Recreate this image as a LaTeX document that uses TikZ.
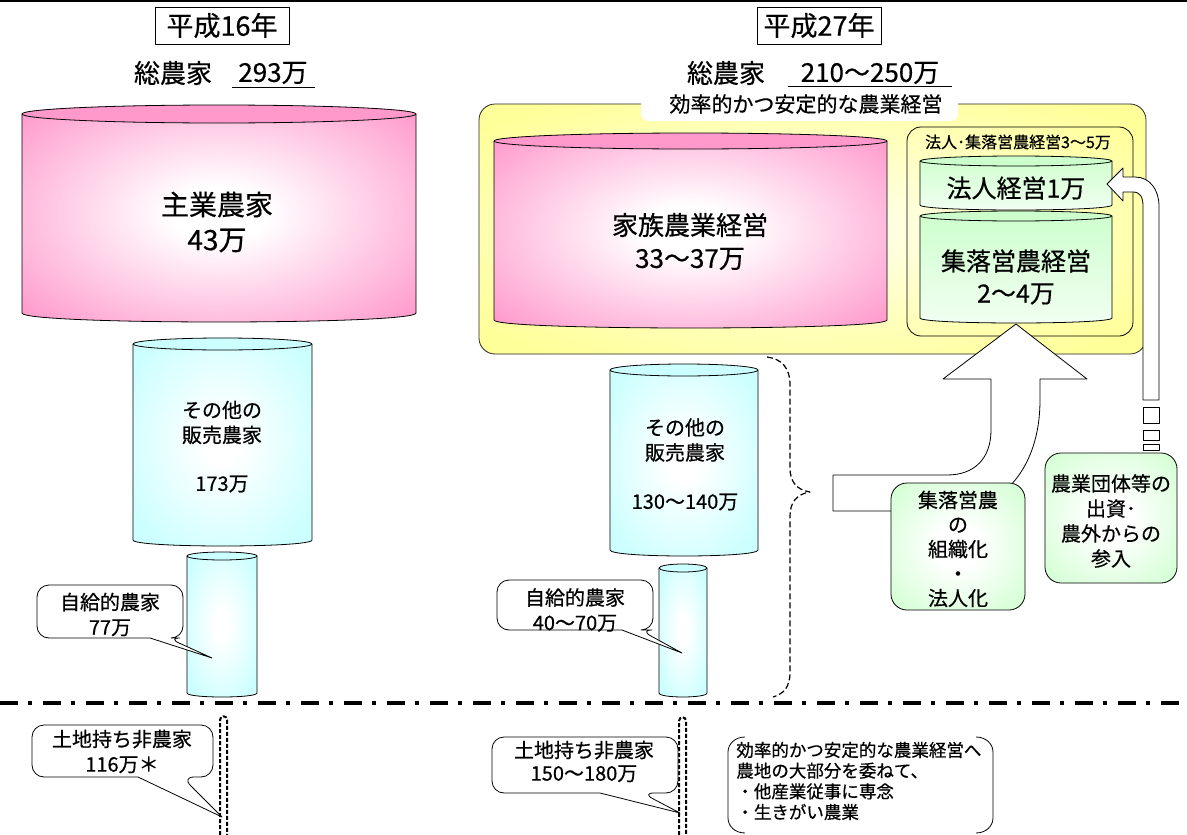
\documentclass[tikz,border=0pt]{standalone}
\usepackage{fontspec}
\setmainfont{Noto Sans CJK JP}[FakeBold=0.5]
\definecolor{pinkc}{HTML}{FF99CC}
\definecolor{cyanc}{HTML}{CCFFFF}
\definecolor{greenc}{HTML}{CCFFCC}
\definecolor{greenl}{HTML}{F2FFF2}
\definecolor{yellowc}{HTML}{FFFF99}
\definecolor{yellowin}{HTML}{FFFFE0}
\pgfdeclareradialshading{pinkglow}{\pgfpoint{0bp}{0bp}}{color(0bp)=(white); color(6bp)=(white); color(34bp)=(pinkc); color(50bp)=(pinkc)}
\pgfdeclareradialshading{cyanglow}{\pgfpoint{0bp}{0bp}}{color(0bp)=(white); color(5bp)=(white); color(30bp)=(cyanc); color(50bp)=(cyanc)}
\pgfdeclareradialshading{greenglow}{\pgfpoint{0bp}{0bp}}{color(0bp)=(white); color(8bp)=(white); color(38bp)=(greenc); color(50bp)=(greenc)}
\pgfdeclareradialshading{yellowglow}{\pgfpoint{0bp}{0bp}}{color(0bp)=(yellowin); color(6bp)=(yellowin); color(32bp)=(yellowc); color(50bp)=(yellowc)}
\newcommand\Cyl[7]{%
  \path[#6] (#1,#3) -- (#1,#4) .. controls (#1,{#4+1.333*#5}) and (#2,{#4+1.333*#5}) .. (#2,#4) -- (#2,#3) .. controls (#2,{#3-1.333*#5}) and (#1,{#3-1.333*#5}) .. cycle;
  \draw (#1,#3) -- (#1,#4) .. controls (#1,{#4+1.333*#5}) and (#2,{#4+1.333*#5}) .. (#2,#4) -- (#2,#3);
  \draw[fill=#7] ({(#1+#2)/2},#3) ellipse [x radius={(#2-#1)/2}, y radius=#5];
}
\tikzset{
  fA/.style={font=\fontsize{27}{32}\selectfont},
  fB/.style={font=\fontsize{26}{33}\selectfont},
  fC/.style={font=\fontsize{20}{25}\selectfont},
  fD/.style={font=\fontsize{17.5}{20.7}\selectfont},
  lbl/.style={inner sep=0pt, align=center},
  call/.style={draw, fill=white, line width=0.8pt},
  vdots/.style={line width=2pt, dash pattern=on 4pt off 2pt},
}
\begin{document}
\begin{tikzpicture}[x=1pt,y=-1pt,line width=0.8pt,line join=round]
\useasboundingbox (0,0) rectangle (1187,835);
\fill[white] (0,0) rectangle (1187,835);
\draw[line width=2pt] (0,1) -- (1187,1);

% titles
\node[draw, fA, minimum width=134pt, minimum height=37pt, inner sep=0pt] (t16) at (222,25.5) {平成16年};
\node[draw, fA, minimum width=124pt, minimum height=37pt, inner sep=0pt] (t27) at (819,25.5) {平成27年};
\node[fB, lbl] (s16a) at (173,73) {総農家};
\node[fB, lbl] (s16b) at (273,73) {293万};
\draw (232,87) -- (315,87);
\node[fB, lbl] (s27a) at (726,73) {総農家};
\node[fB, lbl] (s27b) at (870,73) {210～250万};
\draw (788,86) -- (952,86);

% yellow frame
\draw[rounded corners=16, shading=yellowglow, draw=black!85] (479,104) rectangle (1146,354);
\fill[white, rounded corners=8] (641,88) rectangle (958,121);
\node[lbl, font=\fontsize{21}{25}\selectfont] (eff) at (806,104) {効率的かつ安定的な農業経営};

% pink cylinders
\Cyl{22}{416}{114}{313}{9}{shading=pinkglow}{pinkc}
\node[lbl, font=\fontsize{28}{35}\selectfont] (main) at (217,222) {主業農家\\43万};
\Cyl{494}{887}{141}{320}{8}{shading=pinkglow}{pinkc}
\node[lbl, fB] (fam) at (690,241.5) {家族農業経営\\33～37万};

% corporate frame
\draw[rounded corners=14] (907,127) rectangle (1133,336);
\node[lbl, font=\fontsize{16}{19}\selectfont] (corp) at (1018,142) {法人･集落営農経営3～5万};
\Cyl{920}{1112}{161}{205}{5}{top color=greenc,bottom color=greenl}{greenc}
\node[lbl, font=\fontsize{25}{32}\selectfont] (hojin) at (1016,188) {法人経営1万};
\Cyl{920}{1112}{216}{318}{5}{top color=greenc,bottom color=greenl}{greenc}
\node[lbl, font=\fontsize{25}{32}\selectfont] (shur) at (1016,277) {集落営農経営\\2～4万};

% cyan cylinders
\Cyl{133}{312}{344}{540}{6}{shading=cyanglow}{cyanc}
\node[lbl, fC] (o1) at (222,422.5) {その他の\\販売農家};
\node[lbl, fC] (o1n) at (222,484) {173万};
\Cyl{187}{257}{556}{693}{4}{shading=cyanglow}{cyanc}
\Cyl{610}{758}{370}{550}{6}{shading=cyanglow}{cyanc}
\node[lbl, fC] (o2) at (685,440) {その他の\\販売農家};
\node[lbl, fC] (o2n) at (685,502) {130～140万};
\Cyl{659}{707}{568}{693}{4}{shading=cyanglow}{cyanc}

% callouts (upper)
\draw[call, rounded corners=12] (110,585) -- (183,585) -- (183,638) -- (168,638) [sharp corners] -- (212,658) -- (150,638) [rounded corners=12] -- (37,638) -- (37,585) -- cycle;
\node[lbl, fC] (c1) at (110,614.5) {自給的農家\\77万};
\draw[call, rounded corners=12] (575,580) -- (653,580) -- (653,630) -- (640,630) [sharp corners] -- (682,653) -- (622,630) [rounded corners=12] -- (497,630) -- (497,580) -- cycle;
\node[lbl, fC] (c3) at (575,610) {自給的農家\\40～70万};

% big bent arrow
\draw[fill=white] (833,475) -- (947,475) .. controls (975,475) and (991,458) .. (991,430) -- (991,379) -- (943,379) -- (1016,324) -- (1087,379) -- (1040,379) -- (1040,400) .. controls (1040,470) and (1000,511) .. (950,511) -- (833,511) -- cycle;

% green boxes
\draw[rounded corners=16, shading=greenglow] (891,483) rectangle (1025,610);
\node[lbl, font=\fontsize{20}{24.5}\selectfont] (org) at (958,549) {集落営農\\の\\組織化\\・\\法人化};
\draw[rounded corners=16, shading=greenglow] (1045,453) rectangle (1177,583);
\node[lbl, font=\fontsize{20}{25}\selectfont] (inv) at (1111,521) {農業団体等の\\出資･\\農外からの\\参入};

% right arrow
\draw[fill=white] (1143,400) -- (1143,206) .. controls (1143,197) and (1140,192) .. (1133,192) -- (1123,192) -- (1123,201) -- (1107,184) -- (1123,168) -- (1123,177) -- (1135,177) .. controls (1150,177) and (1159,190) .. (1159,206) -- (1159,400) -- cycle;
\draw[fill=white] (1143,407) rectangle (1159,423);
\draw[fill=white] (1143,430) rectangle (1159,440);
\draw[fill=white] (1143,444) rectangle (1159,450);

% dashed brace
\draw[line width=1.2pt, dash pattern=on 6pt off 3pt] (767,357) .. controls (782,359) and (790,368) .. (790,385) -- (790,468) .. controls (790,482) and (797,490) .. (810,492) .. controls (797,494) and (790,502) .. (790,516) -- (790,672) .. controls (790,688) and (783,694) .. (773,697);

% dash-dot separator
\draw[line width=4pt, dash pattern=on 18pt off 10pt on 4pt off 11pt] (0,703) -- (1187,703);

% vertical double dotted lines
\draw[vdots] (220,835) -- (220,720) .. controls (220,715) and (227,715) .. (227,720) -- (227,835);
\draw[vdots] (679,835) -- (679,721) .. controls (679,716) and (686,716) .. (686,721) -- (686,835);

% callouts (lower)
\draw[call, rounded corners=12] (122,725) -- (213,725) -- (213,777) -- (182,777) [sharp corners] -- (222,817) -- (138,777) [rounded corners=12] -- (32,777) -- (32,725) -- cycle;
\node[lbl, fC] (c2) at (122,751.5) {土地持ち非農家\\116万＊};
\draw[call, rounded corners=12] (585,737) -- (678,737) -- (678,793) -- (642,793) [sharp corners] -- (680,813) -- (600,793) [rounded corners=12] -- (492,793) -- (492,737) -- cycle;
\node[lbl, font=\fontsize{20}{23}\selectfont] (c4) at (584,761.5) {土地持ち非農家\\150～180万};

% bracket note
\draw (745,737) .. controls (735,737) and (728,744) .. (728,752) -- (728,818) .. controls (728,826) and (735,833) .. (745,833);
\draw (976,737) .. controls (986,737) and (993,744) .. (993,752) -- (993,818) .. controls (993,826) and (986,833) .. (976,833);
\node[inner sep=0pt, align=left, anchor=west, fD] (note) at (736,781) {効率的かつ安定的な農業経営へ\\農地の大部分を委ねて、\\・他産業従事に専念\\・生きがい農業};
\end{tikzpicture}
\end{document}
